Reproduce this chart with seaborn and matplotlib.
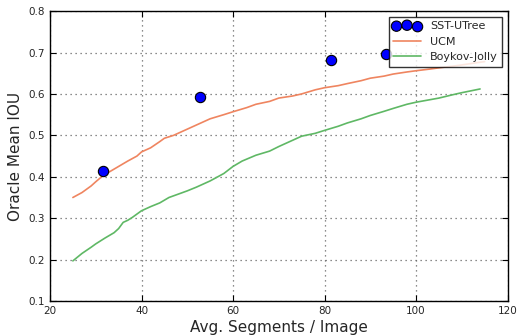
import pandas as pd
import matplotlib
matplotlib.use("Agg")
import matplotlib.pyplot as plt
import seaborn as sns

# SST-UTree points
sst_x = [31.5, 52.8, 81.5, 93.5]
sst_y = [0.414, 0.592, 0.682, 0.696]

# UCM curve
ucm_x = [25, 27, 29, 30, 31.5, 33, 35, 37, 39, 40, 42, 44, 45, 47, 50, 52, 55, 58, 60,
         63, 65, 68, 70, 73, 75, 78, 80, 83, 85, 88, 90, 93, 95, 98, 100, 103, 105, 108, 110, 113, 115]
ucm_y = [0.350, 0.362, 0.378, 0.388, 0.402, 0.412, 0.425, 0.438, 0.450, 0.460, 0.470, 0.485, 0.493,
         0.500, 0.515, 0.525, 0.540, 0.550, 0.557, 0.567, 0.575, 0.582, 0.590, 0.595, 0.600,
         0.610, 0.615, 0.620, 0.625, 0.632, 0.638, 0.643, 0.648, 0.653, 0.656, 0.660, 0.663,
         0.667, 0.670, 0.675, 0.678]

# Boykov-Jolly curve
bj_x = [25, 27, 29, 30, 32, 34, 35, 36, 37, 38, 40, 42, 44, 46, 48, 50, 52, 55, 58, 60,
        62, 65, 68, 70, 73, 75, 78, 80, 83, 85, 88, 90, 93, 95, 98, 100, 103, 105, 108, 110, 114]
bj_y = [0.197, 0.215, 0.230, 0.238, 0.252, 0.265, 0.275, 0.290, 0.295, 0.302, 0.318, 0.328, 0.337,
        0.350, 0.358, 0.366, 0.375, 0.390, 0.408, 0.425, 0.438, 0.452, 0.462, 0.473, 0.488,
        0.498, 0.505, 0.512, 0.522, 0.530, 0.540, 0.548, 0.558, 0.565, 0.575, 0.580, 0.586,
        0.590, 0.598, 0.603, 0.612]

sns.set_style("white")
plt.rcParams['font.family'] = ['DejaVu Sans']

fig = plt.figure(figsize=(5.17, 3.36), dpi=100)
ax = fig.add_axes([0.0967, 0.104, 0.885, 0.863])

sns.lineplot(x=ucm_x, y=ucm_y, ax=ax, color='#ef8560', linewidth=1.2, label='UCM',
             sort=False, estimator=None)
sns.lineplot(x=bj_x, y=bj_y, ax=ax, color='#5fb865', linewidth=1.2, label='Boykov-Jolly',
             sort=False, estimator=None)
sns.scatterplot(x=sst_x, y=sst_y, ax=ax, color='#0000ff', edgecolor='black', linewidth=0.8,
                s=55, label='SST-UTree', zorder=5)

ax.set_xlim(20, 120)
ax.set_ylim(0.1, 0.8)
ax.set_xticks([20, 40, 60, 80, 100, 120])
ax.set_yticks([0.1, 0.2, 0.3, 0.4, 0.5, 0.6, 0.7, 0.8])
ax.set_xlabel('Avg. Segments / Image', fontsize=11, labelpad=3)
ax.set_ylabel('Oracle Mean IOU', fontsize=11)
ax.tick_params(direction='in', labelsize=7.5, length=4, top=True, right=True,
               bottom=True, left=True, color='black')
ax.grid(True, linestyle=(0, (1, 3)), color='#666666', linewidth=0.9)
for s in ax.spines.values():
    s.set_color('black')
    s.set_linewidth(1.0)

handles, labels = ax.get_legend_handles_labels()
order = [labels.index('SST-UTree'), labels.index('UCM'), labels.index('Boykov-Jolly')]
leg = ax.legend([handles[i] for i in order], [labels[i] for i in order], loc='upper right',
                fontsize=8, frameon=True, fancybox=False, scatterpoints=3,
                borderaxespad=0.5, handlelength=2.5)
leg.get_frame().set_edgecolor('black')
leg.get_frame().set_linewidth(1.0)

fig.savefig('out.png', dpi=100)
